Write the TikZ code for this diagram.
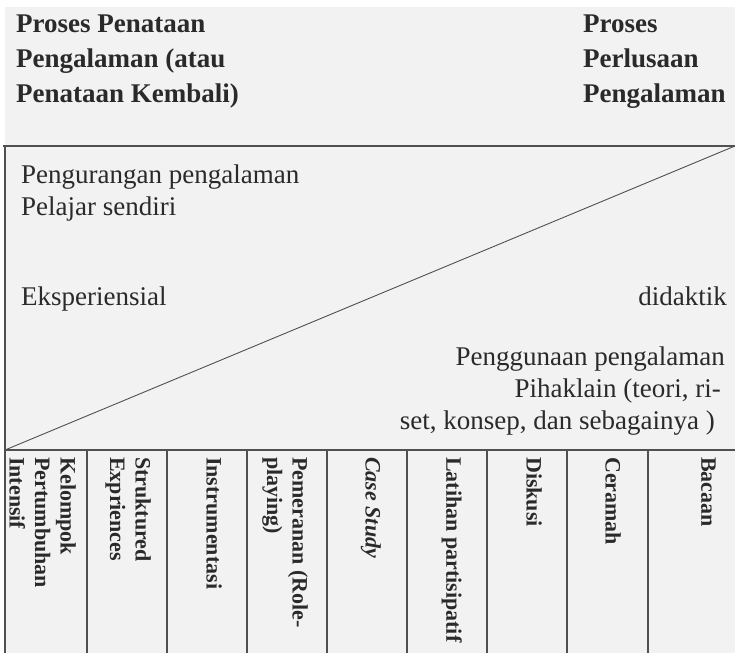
\documentclass[tikz,border=0pt]{standalone}
\usepackage{fontspec}
\setmainfont{Liberation Serif}
\definecolor{bg}{HTML}{F2F2F2}
\definecolor{ink}{HTML}{2A2A2A}
\definecolor{rule}{HTML}{505050}
\begin{document}
\begin{tikzpicture}[x=1pt,y=-1pt,
  hdr/.style={anchor=base west,inner sep=0,text=ink,font=\fontsize{27}{27}\selectfont\bfseries},
  txt/.style={anchor=base west,inner sep=0,text=ink,font=\fontsize{27}{27}\selectfont},
  txtr/.style={txt,anchor=base east},
  coltxt/.style={rotate=-90,anchor=north west,inner sep=0,align=left,text=ink,font=\fontsize{22}{25.5}\selectfont\bfseries},
  grid/.style={draw=rule,line width=1.6pt},
  colline/.style={draw=rule,line width=1.3pt}]
\useasboundingbox (0,0) rectangle (735,653);
\fill[bg] (5,7) rectangle (735,653);
% header texts
\node[hdr] (l1) at (16,32) {Proses Penataan};
\node[hdr] (l2) at (16,67) {Pengalaman (atau};
\node[hdr] (l3) at (16,102) {Penataan Kembali)};
\node[hdr] (r1) at (583,32) {Proses};
\node[hdr] (r2) at (583,67) {Perlusaan};
\node[hdr] (r3) at (583,102) {Pengalaman};
% frame
\coordinate (tl) at (5,146);
\coordinate (tr) at (735,146);
\coordinate (bl) at (5,450);
\coordinate (br) at (735,450);
\coordinate (bot) at (5,653);
\draw[grid] (3,146) -- (tr);
\draw[grid] (tl) -- (bot);
\draw[grid] (bl) -- (br);
\draw[draw=rule,line width=0.9pt] (bl) -- (tr);
% middle texts
\node[txt] (m1) at (21,183) {Pengurangan pengalaman};
\node[txt] (m2) at (21,215) {Pelajar sendiri};
\node[txt] (m3) at (21,305) {Eksperiensial};
\node[txtr] (m4) at (727,305) {didaktik};
\node[txtr] (m5) at (725,365) {Penggunaan pengalaman};
\node[txtr] (m6) at (721,397) {Pihaklain (teori, ri-};
\node[txtr] (m7) at (715,429) {set, konsep, dan sebagainya )};
% column lines
\foreach \cx in {87,167,247,327,407,487,567,648}
  \draw[colline] (\cx,450) -- (\cx,653);
% column texts
\node[coltxt] (c1) at (76,457) {Kelompok\\Pertumbuhan\\Intensif};
\node[coltxt] (c2) at (151,457) {Struktured\\Expriences};
\node[coltxt] (c3) at (222,457) {Instrumentasi};
\node[coltxt] (c4) at (308,457) {Pemeranan (Role-\\playing)};
\node[coltxt] (c5) at (381,457) {\itshape Case Study};
\node[coltxt] (c6) at (462,457) {Latihan partisipatif};
\node[coltxt] (c7) at (542,457) {Diskusi};
\node[coltxt] (c8) at (621,457) {Ceramah};
\node[coltxt] (c9) at (716,457) {Bacaan};
\end{tikzpicture}
\end{document}
